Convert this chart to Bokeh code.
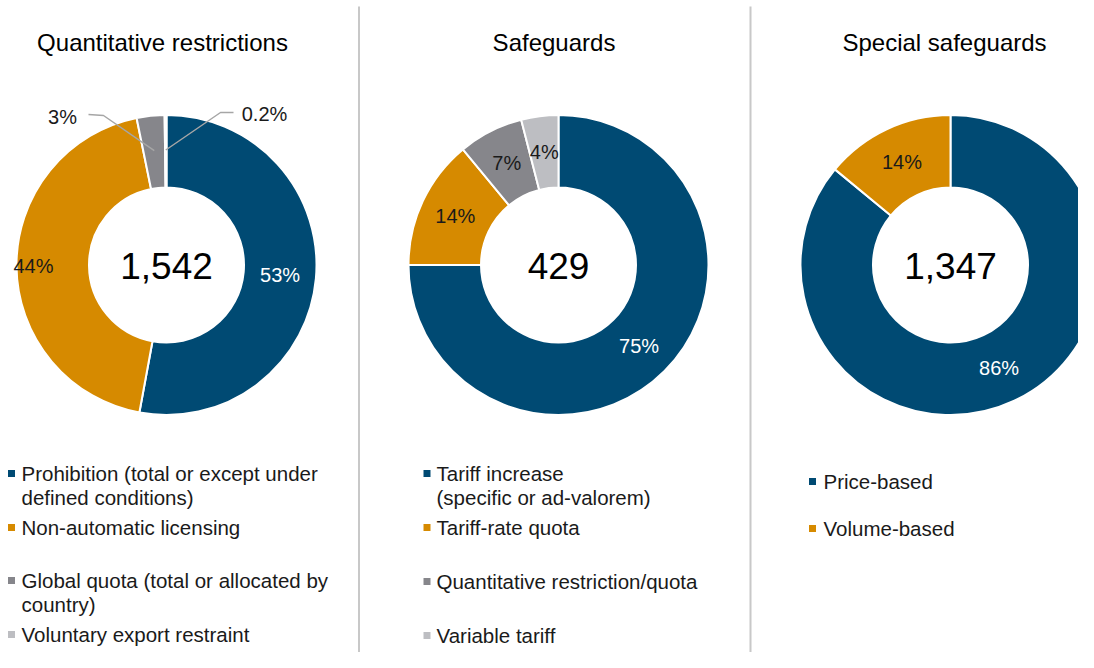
import numpy as np
from bokeh.plotting import figure
from bokeh.models import Range1d, ColumnDataSource
from bokeh.core.properties import value
from bokeh.embed import file_html
from bokeh.resources import INLINE

# ---------------- data ----------------
qr_title = "Quantitative restrictions"
qr_categories = ["Prohibition (total or except under\ndefined conditions)",
                 "Non-automatic licensing",
                 "Global quota (total or allocated by\ncountry)",
                 "Voluntary export restraint"]
qr_shares = [53, 44, 3, 0.2]
qr_total = "1,542"

sg_title = "Safeguards"
sg_categories = ["Tariff increase\n(specific or ad-valorem)",
                 "Tariff-rate quota",
                 "Quantitative restriction/quota",
                 "Variable tariff"]
sg_shares = [75, 14, 7, 4]
sg_total = "429"

ssg_title = "Special safeguards"
ssg_categories = ["Price-based", "Volume-based"]
ssg_shares = [86, 14]
ssg_total = "1,347"

colors = ["#004A73", "#D68A00", "#86868B", "#BDBEC2"]
label_colors = ["white", "#1A1A1A", "#1A1A1A", "#1A1A1A"]

FONT = value("Liberation Sans")

# ---------------- figure (picture pixel coordinates, y flipped) ----------------
W, H = 1078, 652
def Y(y):
    return 668 - y

p = figure(width=W, height=H, x_range=Range1d(0, 1078), y_range=Range1d(16, 668),
           output_backend="svg", toolbar_location=None, min_border=0,
           x_axis_type=None, y_axis_type=None)
p.grid.visible = False
p.outline_line_color = None
p.background_fill_color = "white"
p.border_fill_color = "white"

# separators
for sx in (358.5, 750):
    p.line(x=[sx, sx], y=[Y(6), Y(700)], line_color="#C8C8C8", line_width=2)

R_OUT, R_IN, R_LAB = 150, 77.5, 114

panels = [
    dict(title=qr_title, cats=qr_categories, shares=qr_shares, total=qr_total,
         cx=166, cy=264.5, tx=162, mx=11, lx=21, ly=[473, 527, 580, 634],
         lab_r={1: 133}, external={
             2: dict(pos=(62, 116), elbow=[(88, 114), (103, 115)]),
             3: dict(pos=(264, 113), elbow=[(233, 112), (220, 112)]),
         }),
    dict(title=sg_title, cats=sg_categories, shares=sg_shares, total=sg_total,
         cx=558, cy=264.5, tx=553.5, mx=426.5, lx=436, ly=[473, 527, 581, 635],
         lab_r={}, external={}),
    dict(title=ssg_title, cats=ssg_categories, shares=ssg_shares, total=ssg_total,
         cx=950, cy=264.5, tx=944, mx=812, lx=823, ly=[481, 528],
         lab_r={}, external={}),
]

for pn in panels:
    shares = np.array(pn["shares"], dtype=float)
    frac = shares / shares.sum()
    cum = np.concatenate([[0], np.cumsum(frac)])
    theta0 = 2 * np.pi * cum[:-1]
    theta1 = 2 * np.pi * cum[1:]
    n = len(shares)
    cx, cy = pn["cx"], Y(pn["cy"])
    src = ColumnDataSource(dict(
        start=list(np.pi / 2 - theta0), end=list(np.pi / 2 - theta1),
        color=colors[:n]))
    p.annular_wedge(x=cx, y=cy, inner_radius=R_IN, outer_radius=R_OUT,
                    start_angle="start", end_angle="end", direction="clock",
                    fill_color="color", line_color="white", line_width=2, source=src)

    # labels
    mid = (theta0 + theta1) / 2
    for i in range(n):
        s = pn["shares"][i]
        txt = f"{s:g}%"
        if i in pn["external"]:
            ext = pn["external"][i]
            ex = cx + 115 * np.sin(mid[i])
            ey = cy + 115 * np.cos(mid[i])
            xs = [e[0] for e in ext["elbow"]] + [ex]
            ys = [Y(e[1]) for e in ext["elbow"]] + [ey]
            p.line(x=xs, y=ys, line_color="#A6A6A6", line_width=1.5)
            p.text(x=[ext["pos"][0]], y=[Y(ext["pos"][1])], text=[txt],
                   text_font=FONT, text_font_size="20px", text_color="#1A1A1A",
                   text_align="center", text_baseline="middle")
        else:
            r = pn["lab_r"].get(i, R_LAB)
            p.text(x=[cx + r * np.sin(mid[i])], y=[cy + r * np.cos(mid[i])], text=[txt],
                   text_font=FONT, text_font_size="20px", text_color=label_colors[i],
                   text_align="center", text_baseline="middle")

    # center total
    p.text(x=[cx], y=[cy - 1], text=[pn["total"]], text_font=FONT, text_font_size="37px",
           text_color="black", text_align="center", text_baseline="middle")
    # title
    p.text(x=[pn["tx"]], y=[Y(42)], text=[pn["title"]], text_font=FONT, text_font_size="24px",
           text_color="black", text_align="center", text_baseline="middle")

    # legend
    for i, cat in enumerate(pn["cats"]):
        y0 = pn["ly"][i]
        p.scatter(x=[pn["mx"]], y=[Y(y0)], marker="square", size=7,
                  fill_color=colors[i], line_color=None)
        for k, line in enumerate(cat.split("\n")):
            p.text(x=[pn["lx"]], y=[Y(y0 + 24 * k)], text=[line], text_font=FONT,
                   text_font_size="20.5px", text_color="#1A1A1A",
                   text_align="left", text_baseline="middle")

open("out.html", "w").write(file_html(p, INLINE))
